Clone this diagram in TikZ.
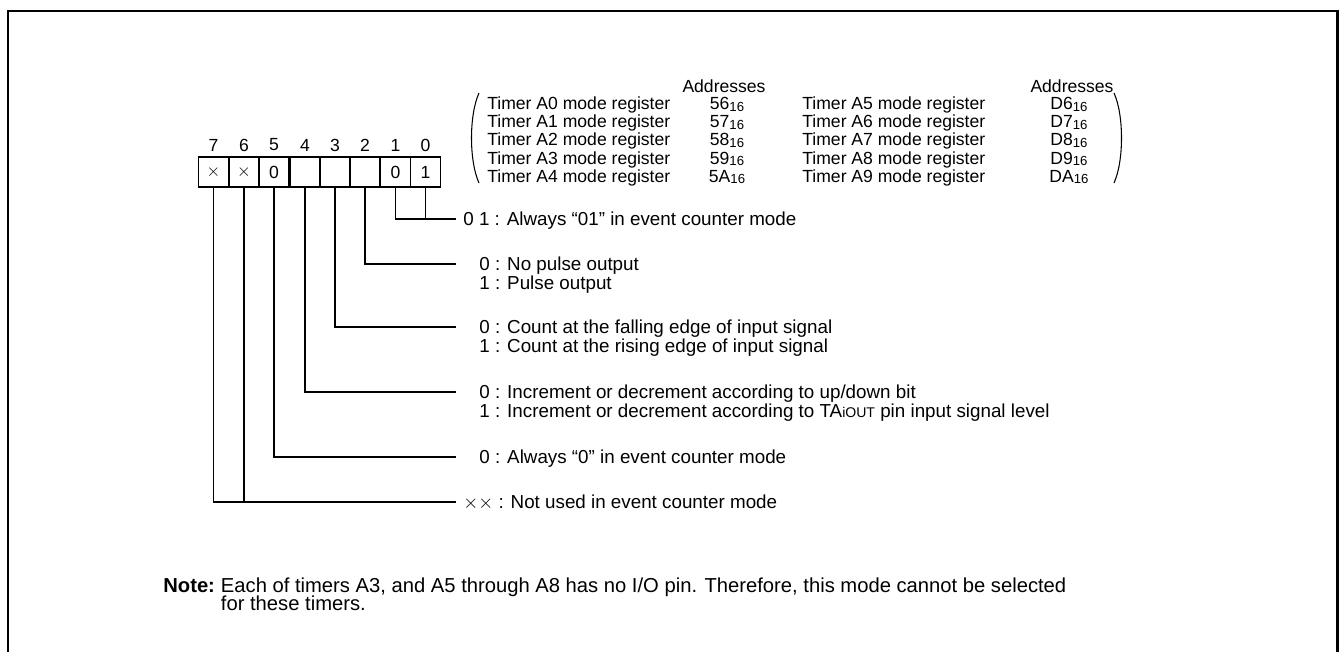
\documentclass[tikz,border=0pt]{standalone}
\usepackage{fontspec}
\setmainfont{Liberation Sans}
\usetikzlibrary{positioning}

\newcommand{\hexnum}[1]{#1\raisebox{-0.8pt}{\fontsize{7.5pt}{8pt}\selectfont 16}}
\newcommand{\taiout}{TA{\fontsize{8pt}{8pt}\selectfont iOUT}}

\tikzset{
  cell/.style={draw, line width=0.9pt, minimum width=0.606cm, minimum height=0.6cm, inner sep=0pt},
  lbl/.style={anchor=base west, inner sep=0pt},
  desc/.style={lbl, font=\fontsize{10.7pt}{12pt}\selectfont},
  lead/.style={line width=0.6pt},
  frame/.style={line width=1.5pt},
}

\begin{document}
\begin{tikzpicture}[x=0.02cm, y=-0.02cm, font=\fontsize{10pt}{12pt}\selectfont]
  \useasboundingbox (0,0) rectangle (1339,652);
  \draw [frame] (8,652) -- (8,11) -- (1337.5,11) -- (1337.5,652);

  % bit numbers and cells
  \node (n7) at (213.5,145) {7};
  \node (n6) at (244.0,145) {6};
  \node (n5) at (274.0,145) {5};
  \node (n4) at (305.0,145) {4};
  \node (n3) at (335.0,145) {3};
  \node (n2) at (365.0,145) {2};
  \node (n1) at (395.5,145) {1};
  \node (n0) at (425.5,145) {0};
  \node [cell] (b7) at (213.5,172) {$\times$};
  \node [cell] (b6) at (244.0,172) {$\times$};
  \node [cell] (b5) at (274.0,172) {0};
  \node [cell] (b4) at (305.0,172) {};
  \node [cell] (b3) at (335.0,172) {};
  \node [cell] (b2) at (365.0,172) {};
  \node [cell] (b1) at (395.5,172) {0};
  \node [cell] (b0) at (425.5,172) {1};

  % register addresses
  \node (ha) at (724,86) {Addresses};
  \node (hb) at (1072,86) {Addresses};
  \node [lbl] (r0) at (487,110) {Timer A0 mode register};
  \node [lbl] (r1) at (487,128) {Timer A1 mode register};
  \node [lbl] (r2) at (487,146) {Timer A2 mode register};
  \node [lbl] (r3) at (487,164) {Timer A3 mode register};
  \node [lbl] (r4) at (487,182) {Timer A4 mode register};
  \node [anchor=base] (a0) at (727,110) {\hexnum{56}};
  \node [anchor=base] (a1) at (727,128) {\hexnum{57}};
  \node [anchor=base] (a2) at (727,146) {\hexnum{58}};
  \node [anchor=base] (a3) at (727,164) {\hexnum{59}};
  \node [anchor=base] (a4) at (727,182) {\hexnum{5A}};
  \node [lbl] (r5) at (802,110) {Timer A5 mode register};
  \node [lbl] (r6) at (802,128) {Timer A6 mode register};
  \node [lbl] (r7) at (802,146) {Timer A7 mode register};
  \node [lbl] (r8) at (802,164) {Timer A8 mode register};
  \node [lbl] (r9) at (802,182) {Timer A9 mode register};
  \node [anchor=base] (a5) at (1069,110) {\hexnum{D6}};
  \node [anchor=base] (a6) at (1069,128) {\hexnum{D7}};
  \node [anchor=base] (a7) at (1069,146) {\hexnum{D8}};
  \node [anchor=base] (a8) at (1069,164) {\hexnum{D9}};
  \node [anchor=base] (a9) at (1069,182) {\hexnum{DA}};
  \draw [lead] (479,93) .. controls (469,115) and (469,161) .. (479,183);
  \draw [lead] (1114,93) .. controls (1124,115) and (1124,161) .. (1114,183);

  % bit descriptions
  \node [desc] (l10) at (463,225) {0 1 : Always “01” in event counter mode};
  \node [desc] (l2a) at (479,270) {0 : No pulse output};
  \node [desc] (l2b) at (479,289) {1 : Pulse output};
  \node [desc] (l3a) at (479,333) {0 : Count at the falling edge of input signal};
  \node [desc] (l3b) at (479,352) {1 : Count at the rising edge of input signal};
  \node [desc] (l4a) at (479,398) {0 : Increment or decrement according to up/down bit};
  \node [desc] (l4b) at (479,417) {1 : Increment or decrement according to \taiout{} pin input signal level};
  \node [desc] (l5) at (479,463) {0 : Always “0” in event counter mode};
  \node [desc] (l76) at (463,508) {$\times\times$ : Not used in event counter mode};

  \coordinate (e10) at (456,219);
  \coordinate (e2) at (456,264);
  \coordinate (e3) at (456,327);
  \coordinate (e4) at (456,392);
  \coordinate (e5) at (456,457);
  \coordinate (e76) at (456,502);
  \draw [lead] (b1.south) |- (e10);
  \draw [lead] (b0.south) -- (b0.south |- e10);
  \draw [lead] (b2.south) |- (e2);
  \draw [lead] (b3.south) |- (e3);
  \draw [lead] (b4.south) |- (e4);
  \draw [lead] (b5.south) |- (e5);
  \draw [lead] (b7.south) |- (e76);
  \draw [lead] (b6.south) -- (b6.south |- e76);

  % note
  \node [lbl, font=\fontsize{11.5pt}{12pt}\selectfont] (note) at (163,592) {\textbf{Note:}};
  \node [lbl, font=\fontsize{11.5pt}{12pt}\selectfont, right=3pt of note.base east, anchor=base west] (nt1) {Each of timers A3, and A5 through A8 has no I/O pin. Therefore, this mode cannot be selected};
  \node [lbl, font=\fontsize{11.5pt}{12pt}\selectfont] (nt2) at (nt1.base west |- 0,610) {for these timers.};
\end{tikzpicture}
\end{document}
